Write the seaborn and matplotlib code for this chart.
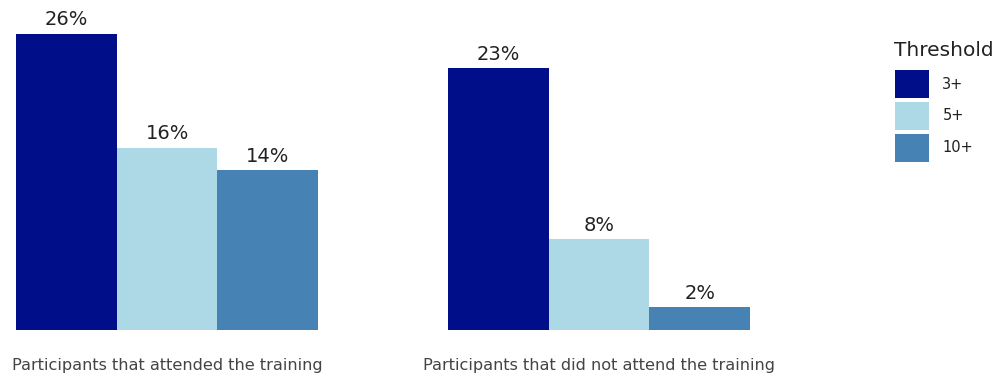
import matplotlib
matplotlib.use("Agg")
import matplotlib.pyplot as plt
import seaborn as sns
import pandas as pd

# Share of participants reaching each threshold
groups = ["Participants that attended the training",
          "Participants that did not attend the training"]
thresholds = ["3+", "5+", "10+"]
attended = [26, 16, 14]
not_attended = [23, 8, 2]
colors = ["#000E8A", "#ADD8E6", "#4682B4"]

df = pd.DataFrame({
    "group": [groups[0]] * 3 + [groups[1]] * 3,
    "Threshold": thresholds * 2,
    "value": attended + not_attended,
})

sns.set_theme(style="white")
plt.rcParams["font.family"] = ["DejaVu Sans"]

W, H = 1002, 378
fig = plt.figure(figsize=(W / 100, H / 100), dpi=100)
left, right, bottom, top = 16, 750, 330, 5
ax = fig.add_axes([left / W, (H - bottom) / H, (right - left) / W, (bottom - top) / H])

sns.barplot(data=df, x="group", y="value", hue="Threshold", order=groups,
            hue_order=thresholds, palette=colors, width=0.7, saturation=1,
            linewidth=0, ax=ax)

for cont in ax.containers:
    ax.bar_label(cont, fmt="%d%%", padding=3, fontsize=14, color="#222222")

ax.set_xlim(-0.35, 1.35)
ax.set_ylim(0, (bottom - top) / 11.4)
ax.set_xlabel("")
ax.set_ylabel("")
ax.set_yticks([])
ax.tick_params(axis="x", length=0, pad=20, labelsize=11.6, labelcolor="#444444")
for s in ax.spines.values():
    s.set_visible(False)

handles, labels = ax.get_legend_handles_labels()
ax.legend_.remove()
fig.text(894 / W, 1 - 56 / H, "Threshold", fontsize=14.5, color="#222222",
         ha="left", va="baseline")
leg = fig.legend(handles, labels, loc="upper left",
                 bbox_to_anchor=(895 / W, 1 - 70 / H), frameon=False,
                 fontsize=10.5, borderpad=0, borderaxespad=0,
                 handlelength=2.3, handleheight=2.6, labelspacing=0.25,
                 handletextpad=0.95)
for t in leg.get_texts():
    t.set_color("#222222")

fig.savefig("out.png", dpi=100, facecolor="white")
